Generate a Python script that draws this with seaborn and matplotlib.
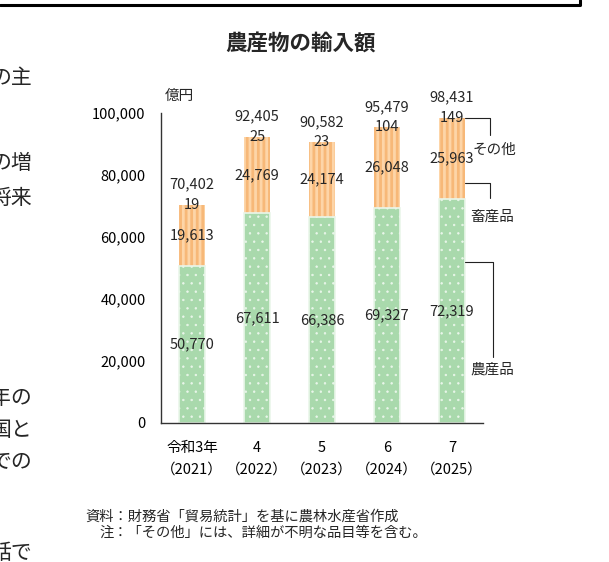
import matplotlib
matplotlib.use("Agg")
import matplotlib.pyplot as plt
from matplotlib.lines import Line2D
from matplotlib.ticker import FuncFormatter
import seaborn as sns

# 農産物の輸入額（億円）
years = ["令和3年\n（2021）", "4\n（2022）", "5\n（2023）", "6\n（2024）", "7\n（2025）"]
agri = [50770, 67611, 66386, 69327, 72319]        # 農産品
livestock = [19613, 24769, 24174, 26048, 25963]   # 畜産品
other = [19, 25, 23, 104, 149]                    # その他
total = [70402, 92405, 90582, 95479, 98431]

green = "#a9d9ac"
orange_face = "#fdd5a8"
orange_stripe = "#f7b878"

sns.set_theme(style="white")
plt.rcParams["font.family"] = ["Noto Sans CJK JP", "DejaVu Sans"]

fig = plt.figure(figsize=(6.09, 5.62), dpi=100)
ax = fig.add_axes([161 / 609, 1 - 423 / 562, 322 / 609, 310 / 562])

# total bar (orange, striped), then agricultural part on top of it
with plt.rc_context({"hatch.linewidth": 2.0}):
    sns.barplot(x=years, y=total, color=orange_face, saturation=1, width=0.4,
                hatch="|||", edgecolor=orange_stripe, linewidth=0, ax=ax)
with plt.rc_context({"hatch.linewidth": 0.5}):
    sns.barplot(x=years, y=agri, color=green, saturation=1, width=0.4,
                hatch="..", edgecolor="#eaf6ea", linewidth=1.2, ax=ax)
for p in ax.patches[len(years):]:
    p.set_edgecolor("#eaf6ea")

ax.set_xlim(-0.48, 4.48)
ax.set_ylim(0, 100000)
ax.set_yticks(range(0, 100001, 20000))
ax.yaxis.set_major_formatter(FuncFormatter(lambda v, p: f"{int(v):,}"))
ax.set_xlabel("")
ax.set_ylabel("")
sns.despine(ax=ax)
for s in ["left", "bottom"]:
    ax.spines[s].set_color("#333333")
    ax.spines[s].set_linewidth(1)
ax.tick_params(axis="y", direction="out", length=5, width=1, color="#333333",
               labelsize=10.5, pad=6, labelcolor="black")
ax.tick_params(axis="x", length=0, labelsize=10.5, pad=13, labelcolor="black")
for lab in ax.get_xticklabels():
    lab.set_linespacing(1.7)

ax.text(0.012, 1.055, "億円", transform=ax.transAxes, ha="left", va="center",
        fontsize=10.5)

# value labels
fs = 10.5
for i in range(len(years)):
    ax.text(i, agri[i] / 2, f"{agri[i]:,}", ha="center", va="center", fontsize=fs)
    ax.text(i, agri[i] + livestock[i] / 2, f"{livestock[i]:,}", ha="center",
            va="center", fontsize=fs)
    ax.text(i, total[i], f"{other[i]:,}", ha="center", va="center", fontsize=fs)
    ax.annotate(f"{total[i]:,}", (i, total[i]), xytext=(0, 14.5),
                textcoords="offset points", ha="center", va="center", fontsize=fs)

# leader lines to the series names at the right of the last bar
last = len(years) - 1
edge = last + 0.2
leaders = [
    ("その他", total[last], 92900, 4.585, 4.66, 88000),
    ("畜産品", 77400, 72600, 4.585, 4.62, 66400),
    ("農産品", 51900, 21300, 4.63, 4.63, 17400),
]
for name, y0, y1, xr, xt, yt in leaders:
    ax.plot([edge, xr, xr], [y0, y0, y1], color="#222222", lw=0.8, clip_on=False)
    ax.text(xt, yt, name, ha="center", va="center", fontsize=fs, clip_on=False)

fig.text(301 / 609, 1 - 44 / 562, "農産物の輸入額", ha="center", va="center",
         fontsize=15.5, fontweight="bold")

fig.text(85 / 609, 1 - 517 / 562, "資料：財務省「貿易統計」を基に農林水産省作成",
         ha="left", va="center", fontsize=10.3)
fig.text(99 / 609, 1 - 533 / 562, "注：「その他」には、詳細が不明な品目等を含む。",
         ha="left", va="center", fontsize=10.3)

# frame of the box above and body text cut at the left edge of the page
fig.add_artist(Line2D([0, 580 / 609, 580 / 609], [1 - 5 / 562, 1 - 5 / 562, 1],
                      transform=fig.transFigure, color="black", lw=2.2))
for txt, ypx in [("の主", 78), ("の増", 163), ("将来", 198), ("年の", 398),
                 ("国と", 430), ("での", 462), ("話で", 553)]:
    fig.text(32 / 609, 1 - ypx / 562, txt, ha="right", va="center", fontsize=15)

fig.savefig("out.png", dpi=100)
